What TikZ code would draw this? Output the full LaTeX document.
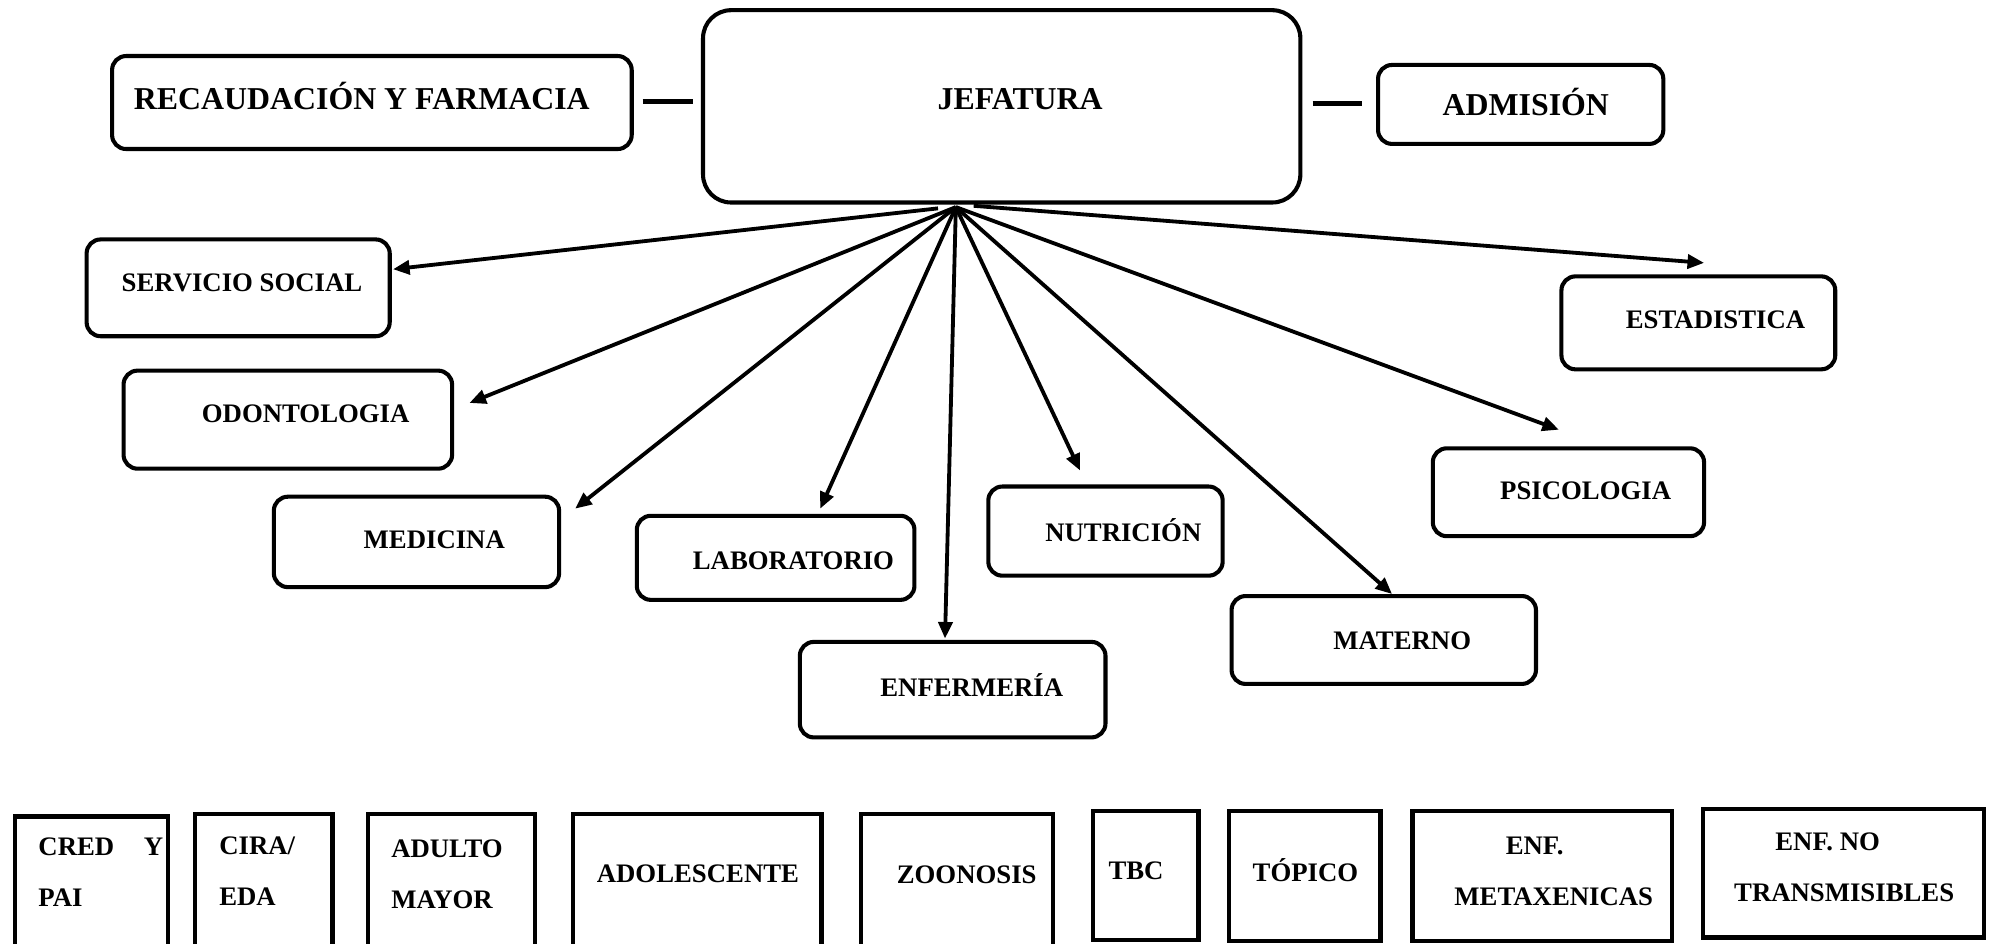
\documentclass[tikz,border=0pt]{standalone}
\usepackage{fontspec}
\setmainfont{Liberation Serif}
\usetikzlibrary{calc,arrows.meta}
\tikzset{
  rbox/.style={draw, line width=3.2pt, rounded corners=11pt, inner sep=0pt},
  sbox/.style={draw, line width=3.4pt, inner sep=0pt},
  lab/.style={font=\fontsize{21}{25}\bfseries, inner sep=0pt},
  biglab/.style={font=\fontsize{25}{29}\bfseries, inner sep=0pt},
  blab/.style={font=\fontsize{21}{40}\bfseries, inner sep=0pt, align=left},
  blabc/.style={font=\fontsize{21}{40}\bfseries, inner sep=0pt, align=center},
  arr/.style={line width=3pt, -{Triangle[length=13pt,width=11pt]}},
  link/.style={line width=4pt}
}
\begin{document}
\begin{tikzpicture}[x=1pt,y=-1pt]
\useasboundingbox (0,0) rectangle (1568,741);
% top row
\node[rbox, minimum width=408, minimum height=73] (rec) at (292,80.5) {};
\node[biglab, anchor=west] (rect) at (105,75) {RECAUDACIÓN Y FARMACIA};
\node[rbox, rounded corners=22pt, minimum width=469, minimum height=151] (jef) at (786.5,83.5) {};
\node[biglab] (jeft) at (801,78) {JEFATURA};
\node[rbox, minimum width=224, minimum height=62] (adm) at (1194,82) {};
\node[biglab] (admt) at (1198,80) {ADMISIÓN};
\draw[link] ($(rec.east)+(7,-0.5)$) -- ($(jef.west)+(-6,-3.5)$);
\draw[link] ($(jef.east)+(8,-2.5)$) -- ($(adm.west)+(-11,-1)$);
% middle boxes
\node[rbox, minimum width=238, minimum height=76] (ss) at (187,226) {};
\node[lab] (sst) at (190,222) {SERVICIO SOCIAL};
\node[rbox, minimum width=258, minimum height=77] (od) at (226,329.5) {};
\node[lab] (odt) at (240,325) {ODONTOLOGIA};
\node[rbox, minimum width=224, minimum height=71] (med) at (327,425.5) {};
\node[lab] (medt) at (341,424) {MEDICINA};
\node[rbox, minimum width=218, minimum height=66] (lab) at (609,438) {};
\node[lab] (labt) at (623,440) {LABORATORIO};
\node[rbox, minimum width=240, minimum height=75] (enf) at (748,541.5) {};
\node[lab] (enft) at (763,538) {ENFERMERÍA};
\node[rbox, minimum width=184, minimum height=70] (nut) at (868,417) {};
\node[lab] (nutt) at (882,416) {NUTRICIÓN};
\node[rbox, minimum width=239, minimum height=69] (mat) at (1086.5,502.5) {};
\node[lab] (matt) at (1101,503) {MATERNO};
\node[rbox, minimum width=213, minimum height=69] (psi) at (1231.5,386.5) {};
\node[lab] (psit) at (1245,385) {PSICOLOGIA};
\node[rbox, minimum width=215, minimum height=73] (est) at (1333.5,253.5) {};
\node[lab] (estt) at (1347,251) {ESTADISTICA};
% arrows
\coordinate (hub) at ($(jef.south)+(-36,2)$);
\draw[arr] ($(hub)+(-14,1)$) -- ($(ss.north east)+(1,25)$);
\draw[arr] (hub) -- ($(od.north east)+(12,27)$);
\draw[arr] (hub) -- ($(med.north east)+(11,11)$);
\draw[arr] (hub) -- ($(lab.north)+(35,-4)$);
\draw[arr] (hub) -- ($(enf.north)+(-6,-1)$);
\draw[arr] (hub) -- ($(nut.north)+(-20,-11)$);
\draw[arr] (hub) -- ($(mat.north)+(6.5,0)$);
\draw[arr] (hub) -- ($(psi.north)+(-7.5,-13)$);
\draw[arr] ($(hub)+(14,-1)$) -- ($(est.north)+(4.5,-9)$);
% bottom boxes
\node[sbox, minimum width=120, minimum height=104] (cred) at (72,693) {};
\node[blab, anchor=north west] (credt) at (30,658) {\makebox[98pt][l]{CRED\hfill Y}\\PAI};
\node[sbox, minimum width=108, minimum height=106] (cira) at (207,692) {};
\node[blab, anchor=north west] (cirat) at (172,657) {CIRA/\\EDA};
\node[sbox, minimum width=131, minimum height=106] (adu) at (354.5,692) {};
\node[blab, anchor=north west] (adut) at (307,659) {ADULTO\\MAYOR};
\node[sbox, minimum width=195, minimum height=106] (ado) at (547.5,692) {};
\node[blab] (adot) at (548,686) {ADOLESCENTE};
\node[sbox, minimum width=151, minimum height=106] (zoo) at (751.5,692) {};
\node[blab] (zoot) at (759,687) {ZOONOSIS};
\node[sbox, minimum width=83, minimum height=101] (tbc) at (899.5,687.5) {};
\node[blab] (tbct) at (892,684) {TBC};
\node[sbox, minimum width=119, minimum height=102] (top) at (1024.5,688) {};
\node[blab] (topt) at (1025,683) {TÓPICO};
\node[sbox, minimum width=204, minimum height=102] (met) at (1211,688) {};
\node[blabc] (mett) at (1220,684) {\hspace*{-30pt}ENF.\\METAXENICAS};
\node[sbox, minimum width=221, minimum height=101] (ent) at (1447.5,685.5) {};
\node[blabc] (entt) at (1448,681) {\hspace*{-26pt}ENF. NO\\TRANSMISIBLES};
\end{tikzpicture}
\end{document}
